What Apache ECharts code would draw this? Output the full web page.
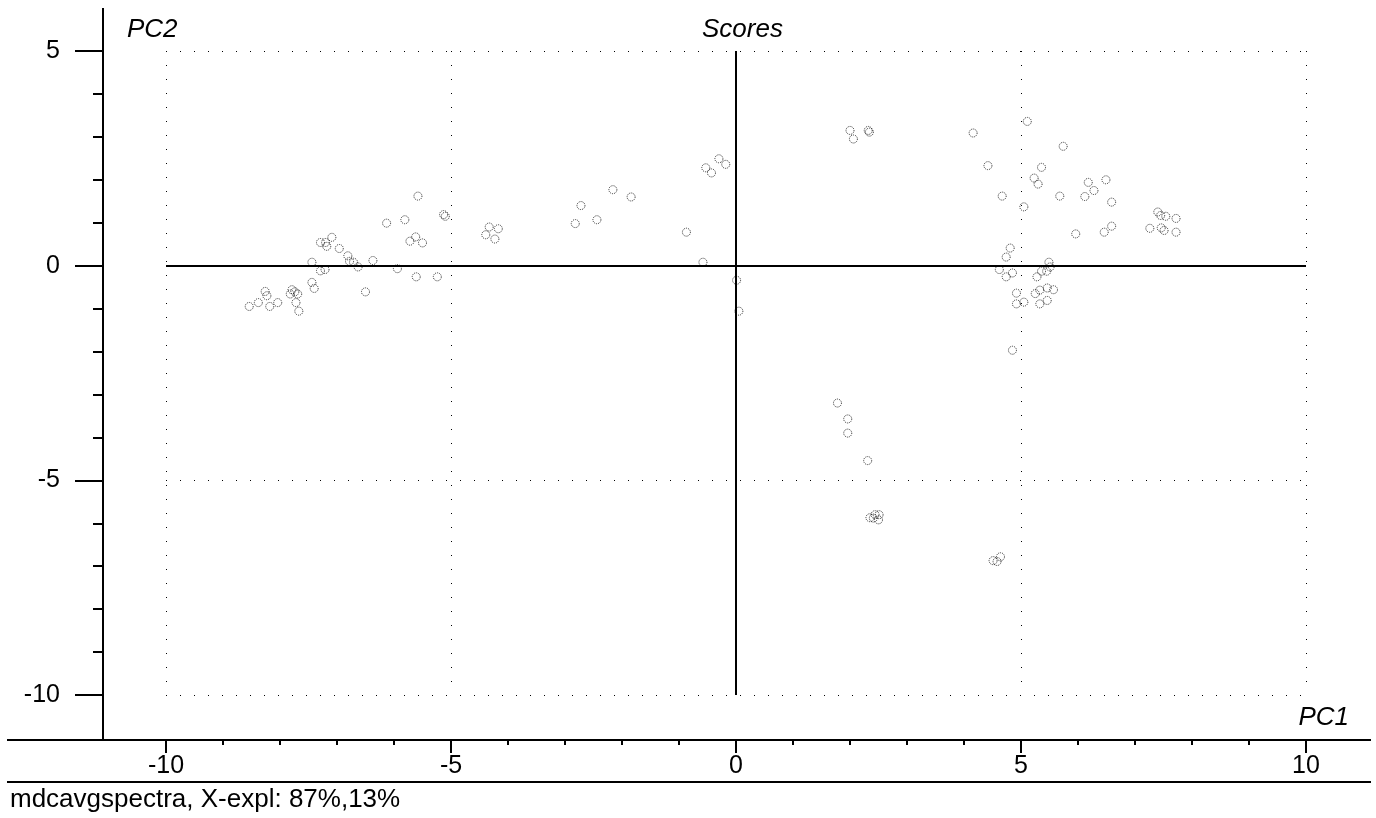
<!DOCTYPE html>
<html>
<head>
<meta charset="utf-8">
<title>Scores</title>
<script src="https://cdn.jsdelivr.net/npm/echarts@6/dist/echarts.min.js"></script>
<style>
  html, body { margin: 0; padding: 0; background: #fff; }
  #scores { width: 1376px; height: 818px; }
</style>
</head>
<body>
<div id="scores"></div>
<script>
// PC1 / PC2 scores
var pc1 = [
  -8.54, -8.38, -8.26, -8.23, -8.18, -8.04, -7.82, -7.79, -7.74, -7.72,
  -7.69, -7.67, -7.44, -7.40, -7.44, -7.29, -7.21, -7.29, -7.20, -7.18,
  -7.09, -6.96, -6.81, -6.78, -6.71, -6.63, -6.50, -6.37, -6.13, -5.94,
  -5.81, -5.72, -5.62, -5.61, -5.58, -5.50, -5.24, -5.13, -5.10, -4.39,
  -4.33, -4.23, -4.17, -2.82, -2.72, -2.44, -2.16, -1.84, -0.87, -0.58,
  -0.53, -0.43, -0.30, -0.18, 0.01, 0.05,
  2.00, 2.06, 2.32, 2.34, 1.78, 1.96, 1.96, 2.31, 2.35, 2.41,
  2.44, 2.51, 2.50, 4.51, 4.58, 4.64,
  4.16, 4.42, 4.67, 4.81, 4.74, 4.62, 4.74, 4.85, 4.92, 4.92,
  4.85, 5.05, 5.05, 5.11, 5.23, 5.30, 5.36, 5.25, 5.28, 5.33,
  5.33, 5.36, 5.45, 5.46, 5.46, 5.49, 5.51, 5.57, 5.68, 5.74,
  5.96, 6.12, 6.18, 6.28, 6.46, 6.49, 6.59, 6.59, 7.26, 7.40,
  7.45, 7.46, 7.51, 7.54, 7.72, 7.72
];
var pc2 = [
  -0.95, -0.86, -0.60, -0.70, -0.95, -0.86, -0.66, -0.56, -0.61, -0.86,
  -0.66, -1.06, -0.39, -0.53, 0.08, -0.12, -0.09, 0.54, 0.54, 0.45,
  0.66, 0.40, 0.23, 0.10, 0.08, -0.03, -0.61, 0.12, 0.99, -0.07,
  1.07, 0.57, 0.67, -0.26, 1.62, 0.53, -0.26, 1.19, 1.15, 0.72,
  0.90, 0.62, 0.86, 0.98, 1.40, 1.07, 1.77, 1.60, 0.78, 0.08,
  2.28, 2.16, 2.49, 2.36, -0.34, -1.06,
  3.15, 2.95, 3.15, 3.11, -3.20, -3.57, -3.90, -4.54, -5.87, -5.88,
  -5.80, -5.80, -5.92, -6.87, -6.89, -6.78,
  3.09, 2.33, 1.62, 0.41, 0.20, -0.09, -0.26, -0.17, -0.64, -0.89,
  -1.97, -0.85, 1.37, 3.36, 2.04, 1.90, 2.29, -0.65, -0.26, -0.57,
  -0.89, -0.13, -0.13, -0.52, -0.81, 0.08, -0.03, -0.56, 1.62, 2.78,
  0.74, 1.61, 1.94, 1.75, 0.78, 2.00, 1.48, 0.92, 0.87, 1.25,
  1.17, 0.88, 0.82, 1.15, 1.10, 0.78
];
var xTicks = [-10, -5, 0, 5, 10];
var yTicks = [-10, -5, 0, 5];

var font = '"Liberation Sans", Arial, sans-serif';

var points = [];
for (var i = 0; i < pc1.length; i++) {
  points.push([pc1[i], pc2[i]]);
}

var myChart = echarts.init(document.getElementById('scores'));
var option = {
  animation: false,
  backgroundColor: '#fff',
  title: [
    {
      text: 'Scores', left: 697, top: 12,
      textStyle: { fontFamily: font, fontSize: 26, fontStyle: 'italic', fontWeight: 'normal', color: '#000' }
    },
    {
      text: 'PC2', left: 122, top: 12,
      textStyle: { fontFamily: font, fontSize: 26, fontStyle: 'italic', fontWeight: 'normal', color: '#000' }
    },
    {
      text: 'PC1', right: 22, top: 700,
      textStyle: { fontFamily: font, fontSize: 26, fontStyle: 'italic', fontWeight: 'normal', color: '#000' }
    }
  ],
  grid: { left: 166, right: 70, top: 51, bottom: 123 },
  xAxis: {
    type: 'value',
    min: xTicks[0],
    max: xTicks[xTicks.length - 1],
    interval: 5,
    position: 'bottom',
    offset: 45,
    axisLine: { show: false, onZero: false },
    axisTick: { show: true, length: 13, lineStyle: { color: '#000', width: 2 } },
    minorTick: { show: true, splitNumber: 5, length: 5, lineStyle: { color: '#000', width: 2 } },
    axisLabel: {
      margin: 14, color: '#000', fontFamily: font, fontSize: 25,
      formatter: function (v) { return xTicks.indexOf(v) >= 0 ? String(v) : ''; }
    },
    splitLine: { show: true, lineStyle: { color: '#000', width: 1, type: [1, 13] } }
  },
  yAxis: {
    type: 'value',
    min: yTicks[0],
    max: yTicks[yTicks.length - 1],
    interval: 5,
    position: 'left',
    offset: 63,
    axisLine: { show: false, onZero: false },
    axisTick: { show: true, length: 28, lineStyle: { color: '#000', width: 2 } },
    minorTick: { show: true, splitNumber: 5, length: 10, lineStyle: { color: '#000', width: 2 } },
    axisLabel: {
      margin: 43, color: '#000', fontFamily: font, fontSize: 25,
      formatter: function (v) { return yTicks.indexOf(v) >= 0 ? String(v) : ''; }
    },
    splitLine: { show: true, lineStyle: { color: '#000', width: 1, type: [1, 13] } }
  },
  graphic: [
    { type: 'line', shape: { x1: 7, y1: 740, x2: 1371, y2: 740 }, style: { stroke: '#000', lineWidth: 2 } },
    { type: 'line', shape: { x1: 103, y1: 8, x2: 103, y2: 740 }, style: { stroke: '#000', lineWidth: 2 } },
    { type: 'line', shape: { x1: 7, y1: 782, x2: 1371, y2: 782 }, style: { stroke: '#000', lineWidth: 2 } },
    {
      type: 'text', left: 10, top: 787,
      style: { text: 'mdcavgspectra, X-expl: 87%,13%', font: '26px ' + font, fill: '#000' }
    }
  ],
  series: [{
    type: 'scatter',
    data: points,
    symbol: 'circle',
    symbolSize: 8,
    itemStyle: { color: 'transparent', borderColor: '#000', borderWidth: 1, borderType: [1, 1] },
    markLine: {
      silent: true,
      symbol: ['none', 'none'],
      label: { show: false },
      lineStyle: { color: '#000', width: 2, type: 'solid' },
      data: [{ xAxis: 0 }, { yAxis: 0 }]
    }
  }]
};
myChart.setOption(option);
</script>
</body>
</html>
